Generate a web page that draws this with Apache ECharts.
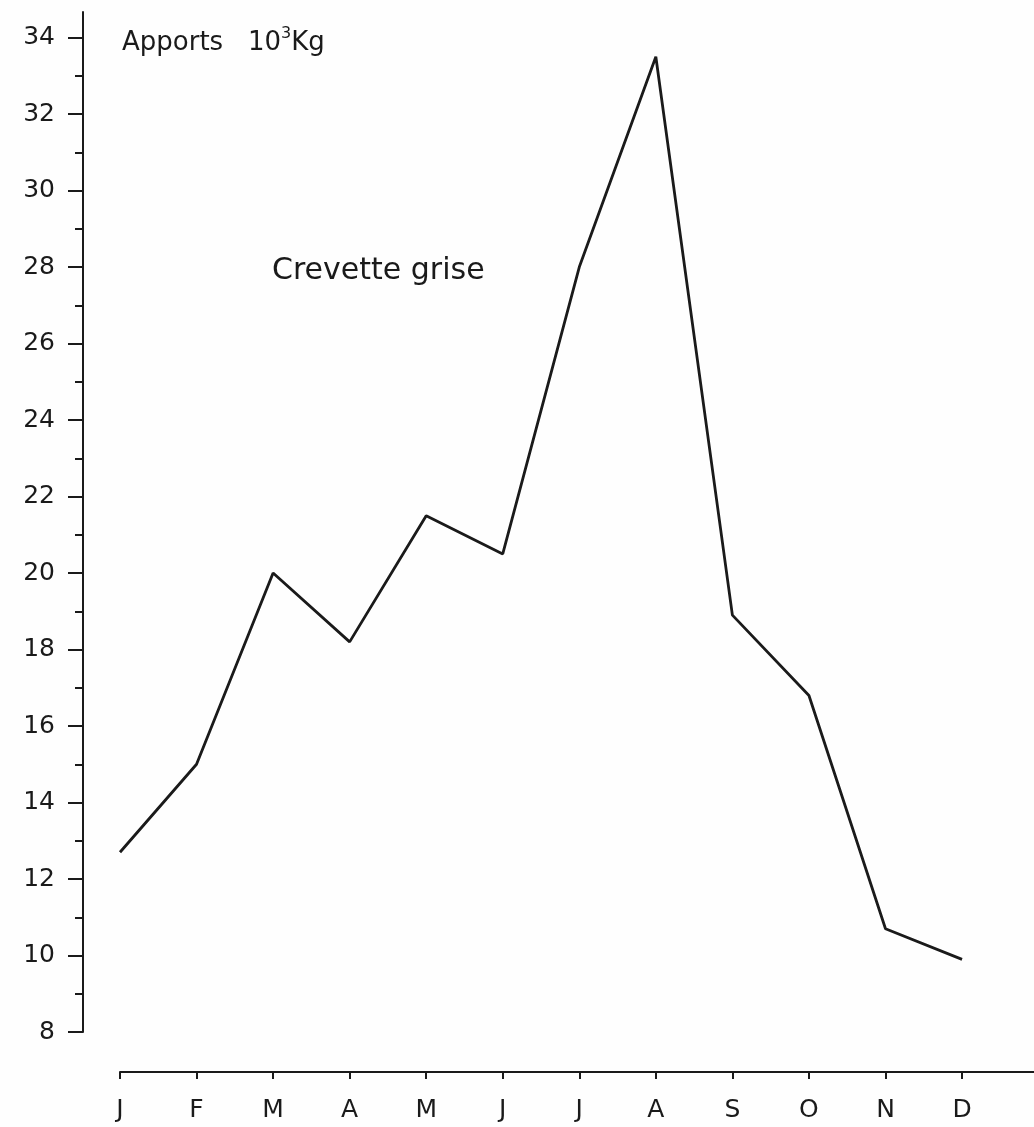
<!DOCTYPE html>
<html>
<head>
<meta charset="utf-8">
<script src="https://cdn.jsdelivr.net/npm/echarts@6/dist/echarts.min.js"></script>
<style>
  html, body { margin: 0; padding: 0; background: #fefefe; }
  #chart { width: 1034px; height: 1127px; }
</style>
</head>
<body>
<div id="chart"></div>
<script>
// mois
var months = ['J', 'F', 'M', 'A', 'M', 'J', 'J', 'A', 'S', 'O', 'N', 'D'];
// apports mensuels, 10^3 kg
var apports = [12.7, 15.0, 20.0, 18.2, 21.5, 20.5, 28.0, 33.5, 18.9, 16.8, 10.7, 9.9];
// graduations de l'axe vertical
var yLabels = [8, 10, 12, 14, 16, 18, 20, 22, 24, 26, 28, 30, 32, 34];
var yMinor = [9, 11, 13, 15, 17, 19, 21, 23, 25, 27, 29, 31, 33];

var ink = '#1a1a1a';
var font = 'DejaVu Sans';

var chart = echarts.init(document.getElementById('chart'));

var monthIdx = months.map(function (m, i) { return i; });

var option = {
  backgroundColor: '#fefefe',
  animation: false,
  title: [
    {
      text: 'Apports   10{s|3}Kg',
      left: 122,
      top: 26,
      padding: 0,
      textStyle: {
        color: ink, fontFamily: font, fontSize: 26, fontWeight: 'normal',
        rich: { s: { fontSize: 16, fontFamily: font, color: ink, verticalAlign: 'top', padding: [0, 0, 18, 0] } }
      }
    },
    {
      text: 'Crevette grise',
      left: 272,
      top: 256,
      padding: 0,
      textStyle: { color: ink, fontFamily: font, fontSize: 30, fontWeight: 'normal' }
    }
  ],
  grid: { left: 120, right: 0, top: 12, bottom: 95 },
  xAxis: {
    type: 'value',
    min: 0,
    max: 11.94,
    interval: 1,
    offset: 40,
    splitLine: { show: false },
    axisLine: { show: true, onZero: false, lineStyle: { color: ink, width: 2 } },
    axisTick: { show: true, customValues: monthIdx, length: 7, lineStyle: { color: ink, width: 2 } },
    axisLabel: {
      customValues: monthIdx,
      margin: 26,
      color: ink,
      fontFamily: font,
      fontSize: 25,
      formatter: function (v) { return months[Math.round(v)]; }
    }
  },
  yAxis: [
    {
      type: 'value',
      position: 'left',
      min: 8,
      max: 34.67,
      offset: 37,
      splitLine: { show: false },
      axisLine: { show: true, onZero: false, lineStyle: { color: ink, width: 2 } },
      axisTick: { show: true, customValues: yLabels, length: 15, lineStyle: { color: ink, width: 2 } },
      axisLabel: {
        customValues: yLabels,
        margin: 28,
        color: ink,
        fontFamily: font,
        fontSize: 25
      }
    },
    {
      type: 'value',
      position: 'left',
      min: 8,
      max: 34.67,
      offset: 37,
      splitLine: { show: false },
      axisLine: { show: false, onZero: false },
      axisTick: { show: true, customValues: yMinor, length: 8, lineStyle: { color: ink, width: 2 } },
      axisLabel: { show: false }
    }
  ],
  series: [
    {
      type: 'line',
      yAxisIndex: 0,
      data: apports.map(function (v, i) { return [i, v]; }),
      symbol: 'none',
      lineStyle: { color: ink, width: 2.8 }
    }
  ]
};

chart.setOption(option);
</script>
</body>
</html>
